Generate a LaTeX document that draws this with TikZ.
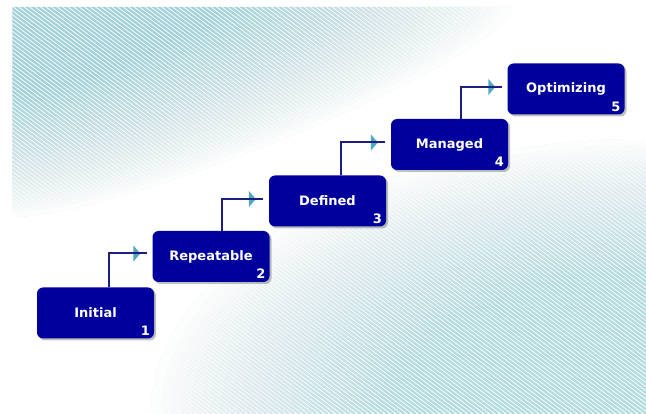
\documentclass[tikz,border=0pt]{standalone}
\usepackage{fontspec}
\setmainfont{DejaVu Sans}
\usetikzlibrary{shadows,decorations.markings,arrows.meta}
\definecolor{boxblue}{HTML}{00009C}
\definecolor{stripecol}{HTML}{A2D2D7}
\definecolor{linecol}{HTML}{1E1E7E}
\definecolor{tipcol}{HTML}{4FA8C2}
\tikzset{
  stripeln/.style={draw=stripecol, line width=2.3pt},
  stepbox/.style={fill=boxblue, rounded corners=6pt, minimum width=117pt,
    minimum height=51pt, inner sep=0pt, text=white,
    font=\bfseries\fontsize{13}{15}\selectfont,
    drop shadow={shadow xshift=2pt, shadow yshift=-2pt, opacity=0.35, fill=black!70}},
  numtxt/.style={text=white, font=\bfseries\fontsize{13}{15}\selectfont, inner sep=0pt, anchor=south east},
  conn/.style={draw=linecol, line width=2pt,
    preaction={decorate, decoration={markings,
      mark=at position -7pt with {\arrow[tipcol]{Triangle[length=7pt,width=16pt]}}}}}
}
\begin{document}
\begin{tikzpicture}[x=1pt,y=-1pt]
\useasboundingbox (0,0) rectangle (646,414);
% upper striped area
\begin{scope}
  \clip (12,7) rectangle (646,414);
  \clip (12,7) -- (512,7) .. controls (512,{7+0.23*210}) and ({12+0.23*500},217) .. (12,217) -- cycle;
  \foreach \c in {-560,-554.5,...,650} \draw[stripeln] (\c,0) -- ++(552,414);
  \foreach \k [evaluate=\k as \r using {0.4+0.6*\k/30}, evaluate=\k as \o using {1/(31-\k)}] in {1,...,30}
    \fill[white, opacity=\o, even odd rule] (0,0) rectangle (646,414)
      (12,7) -- ({12+500*\r},7) .. controls ({12+500*\r},{7+0.23*210*\r}) and ({12+0.23*500*\r},{7+210*\r}) .. (12,{7+210*\r}) -- cycle;
\end{scope}
% lower striped area
\begin{scope}
  \clip (0,0) rectangle (646,414);
  \clip (646,414) ellipse [x radius=495, y radius=275];
  \foreach \c in {-560,-554.5,...,650} \draw[stripeln] (\c,0) -- ++(552,414);
  \fill[white, opacity=0.2] (0,0) rectangle (646,414);
  \foreach \k [evaluate=\k as \r using {0.5+0.5*\k/25}, evaluate=\k as \o using {1/(26-\k)}] in {1,...,25}
    \fill[white, opacity=\o, even odd rule] (0,0) rectangle (646,414)
      (646,414) ellipse [x radius={495*\r}, y radius={275*\r}];
\end{scope}
% steps
\node[stepbox] (n1) at (95.5,313) {Initial};
\node[stepbox] (n2) at (211,256.5) {Repeatable};
\node[stepbox] (n3) at (327.5,201) {Defined};
\node[stepbox] (n4) at (449.5,144.5) {Managed};
\node[stepbox] (n5) at (566,89) {Optimizing};
\foreach \i in {1,...,5}
  \node[numtxt] (num\i) at ([xshift=-4pt,yshift=3pt]n\i.south east) {\i};
% connectors
\draw[conn] ([xshift=72pt]n1.north west) |- ([xshift=-5pt,yshift=3pt]n2.west);
\draw[conn] ([xshift=70pt]n2.north west) |- ([xshift=-6pt,yshift=2pt]n3.west);
\draw[conn] ([xshift=72pt]n3.north west) |- ([xshift=-6pt,yshift=2pt]n4.west);
\draw[conn] ([xshift=70pt]n4.north west) |- ([xshift=-5pt,yshift=2pt]n5.west);
\end{tikzpicture}
\end{document}
